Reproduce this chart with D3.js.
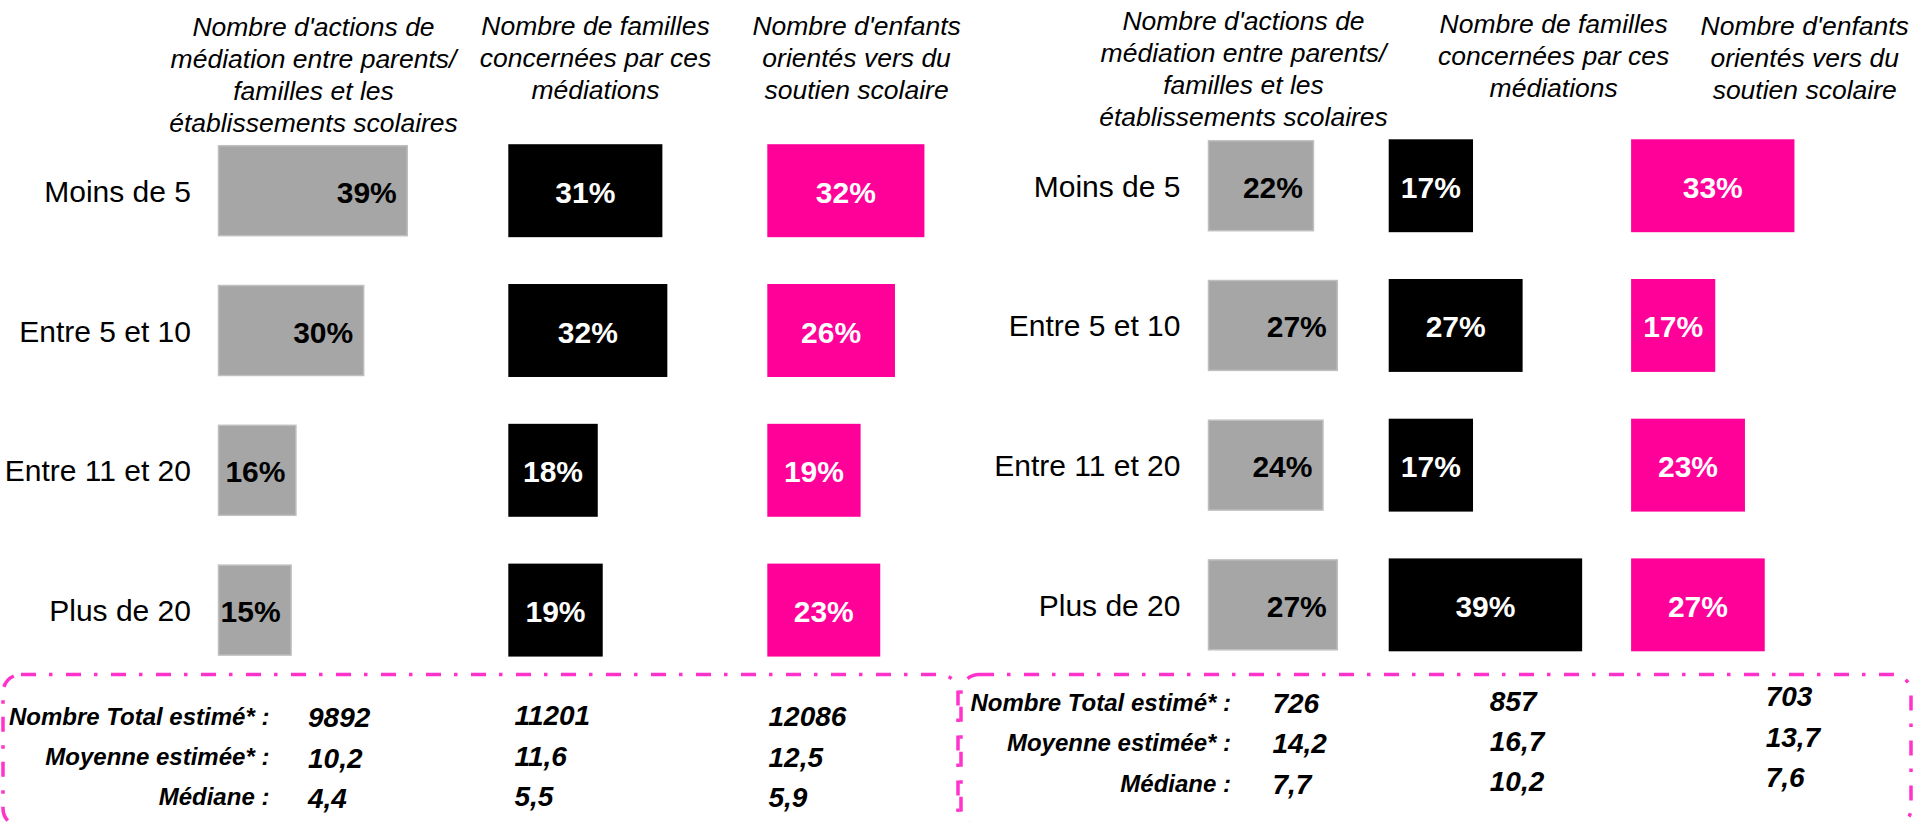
<!DOCTYPE html>
<html>
<head>
<meta charset="utf-8">
<script src="https://cdn.jsdelivr.net/npm/d3@7"></script>
<style>
  body { margin: 0; background: #fff; }
  svg { display: block; font-family: Arial, "Liberation Sans", sans-serif; }
</style>
</head>
<body>
<div id="chart"></div>
<script>
const categories = ["Moins de 5", "Entre 5 et 10", "Entre 11 et 20", "Plus de 20"];
const headers = [
  ["Nombre d'actions de", "médiation entre parents/", "familles et les", "établissements scolaires"],
  ["Nombre de familles", "concernées par ces", "médiations"],
  ["Nombre d'enfants", "orientés vers du", "soutien scolaire"]
];

// left panel
const leftActions = [39, 30, 16, 15];
const leftFamilies = [31, 32, 18, 19];
const leftChildren = [32, 26, 19, 23];
const leftTotals = [9892, 11201, 12086];
const leftMeans = [10.2, 11.6, 12.5];
const leftMedians = [4.4, 5.5, 5.9];

// right panel
const rightActions = [22, 27, 24, 27];
const rightFamilies = [17, 27, 17, 39];
const rightChildren = [33, 17, 23, 27];
const rightTotals = [726, 857, 703];
const rightMeans = [14.2, 16.7, 13.7];
const rightMedians = [7.7, 10.2, 7.6];

const statLabels = ["Nombre Total estimé* :", "Moyenne estimée* :", "Médiane :"];

const colors = ["#a6a6a6", "#000000", "#ff0099"];
const textColors = ["#000", "#fff", "#fff"];
const fmt = v => String(v).replace(".", ",");

const panels = [
  {
    series: [leftActions, leftFamilies, leftChildren],
    stats: [leftTotals, leftMeans, leftMedians],
    labelX: 191, rowTop: 120.8, step: 139.8,
    barX: [218.5, 508.3, 767.3], pxPerPct: [4.84, 4.97, 4.91],
    headX: [313.5, 595.5, 856.6], headY: [36, 35, 35],
    statLabelX: 269.4, statLabelY: [725, 765, 805],
    valueX: [308, 514.4, 768.5],
    valueY: [[727, 768, 808], [725, 766, 806], [726, 767, 807]],
    box: { x: 3, y: 674.5, w: 955, h: 152 }
  },
  {
    series: [rightActions, rightFamilies, rightChildren],
    stats: [rightTotals, rightMeans, rightMedians],
    labelX: 1180.5, rowTop: 115.9, step: 139.7,
    barX: [1208.5, 1388.7, 1631.1], pxPerPct: [4.77, 4.96, 4.95],
    headX: [1243.5, 1553.7, 1804.7], headY: [29.5, 32.8, 34.5],
    statLabelX: 1231, statLabelY: [711, 751, 792],
    valueX: [1272.4, 1489.8, 1765.7],
    valueY: [[713, 753, 794], [711, 751, 791], [706, 746.7, 786.7]],
    box: { x: 961, y: 674.5, w: 950, h: 152 }
  }
];

const svg = d3.select("#chart").append("svg")
  .attr("width", 1915)
  .attr("height", 822);

panels.forEach(p => {
  const g = svg.append("g");

  const y = d3.scaleBand()
    .domain(categories)
    .range([p.rowTop, p.rowTop + categories.length * p.step])
    .paddingInner(0.335)
    .paddingOuter(0.1675);

  // category labels
  g.selectAll(".cat")
    .data(categories)
    .enter().append("text")
    .attr("x", p.labelX)
    .attr("y", d => y(d) + y.bandwidth() / 2 + 11)
    .attr("text-anchor", "end")
    .style("font-size", "30px")
    .style("fill", "#000")
    .text(d => d);

  p.series.forEach((values, i) => {
    const x = d3.scaleLinear()
      .domain([0, 40])
      .range([p.barX[i], p.barX[i] + 40 * p.pxPerPct[i]]);
    const inset = i === 0 ? 1.5 : 0;

    // column header
    const head = g.append("text")
      .attr("text-anchor", "middle")
      .style("font-size", "26.5px")
      .style("font-style", "italic")
      .style("fill", "#000");
    headers[i].forEach((line, k) => {
      head.append("tspan")
        .attr("x", p.headX[i])
        .attr("y", p.headY[i] + k * 32)
        .text(line);
    });

    // bars
    g.selectAll(".bar" + i)
      .data(values)
      .enter().append("rect")
      .attr("x", x(0))
      .attr("y", (d, k) => y(categories[k]) + inset)
      .attr("width", d => x(d) - x(0))
      .attr("height", y.bandwidth() - 2 * inset)
      .style("fill", colors[i])
      .style("stroke", i === 0 ? "#bfbfbf" : "none")
      .style("stroke-width", 1.5);

    // bar labels
    g.selectAll(".lbl" + i)
      .data(values)
      .enter().append("text")
      .attr("x", d => i === 0 ? x(d) - 10.5 : (x(0) + x(d)) / 2)
      .attr("y", (d, k) => y(categories[k]) + y.bandwidth() / 2 + 12)
      .attr("text-anchor", i === 0 ? "end" : "middle")
      .style("font-size", "30px")
      .style("font-weight", "bold")
      .style("fill", textColors[i])
      .text(d => d + "%");

    // stat values
    p.stats.forEach((row, r) => {
      g.append("text")
        .attr("x", p.valueX[i])
        .attr("y", p.valueY[i][r])
        .style("font-size", "28px")
        .style("font-weight", "bold")
        .style("font-style", "italic")
        .style("fill", "#000")
        .text(fmt(row[i]));
    });
  });

  // stat labels
  g.selectAll(".stat")
    .data(statLabels)
    .enter().append("text")
    .attr("x", p.statLabelX)
    .attr("y", (d, r) => p.statLabelY[r])
    .attr("text-anchor", "end")
    .style("font-size", "24px")
    .style("font-weight", "bold")
    .style("font-style", "italic")
    .style("fill", "#000")
    .text(d => d);

  // dash-dot frame
  g.append("rect")
    .attr("x", p.box.x)
    .attr("y", p.box.y)
    .attr("width", p.box.w)
    .attr("height", p.box.h)
    .attr("rx", 18)
    .style("fill", "none")
    .style("stroke", "#ff33cc")
    .style("stroke-width", 3.5)
    .style("stroke-dasharray", "15,13,3.5,13.5");
});
</script>
</body>
</html>
